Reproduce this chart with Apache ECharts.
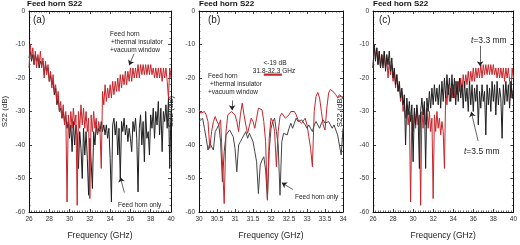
<!DOCTYPE html>
<html lang="en">
<head>
<meta charset="UTF-8">
<title>Feed horn S22</title>
<script src="https://cdn.jsdelivr.net/npm/echarts@6/dist/echarts.min.js"></script>
<style>
  html, body { margin: 0; padding: 0; background: #fff; }
  #chart { width: 520px; height: 245px; }
</style>
</head>
<body>
<div id="chart"></div>
<script>
// sampling grids (GHz)
var startWide = 26, stepWide = 0.125;   // panels (a) and (c)
var startZoom = 30, stepZoom = 0.05;    // panel (b)

// (a) feed horn + thermal insulator + vacuum window (red), one row per GHz
var hornWindowA = [
  -17, -10, -14, -11, -16, -12, -17, -13,
  -16, -12, -17, -14, -20, -15, -19, -16,
  -21, -18, -23, -19, -24, -22, -27, -24,
  -30, -27, -32, -28, -34, -30, -57, -31,
  -36, -30, -35, -29, -34, -31, -58, -30,
  -35, -28, -34, -29, -35, -30, -36, -32,
  -56, -31, -36, -30, -35, -32, -37, -33,
  -36, -47, -24, -28, -22, -27, -23, -26,
  -22, -26, -21, -25, -21, -24, -20, -24,
  -19, -23, -19, -22, -18, -22, -18, -21,
  -17, -21, -17, -20, -17, -20, -16, -20,
  -16, -19, -16, -19, -16, -19, -16, -19,
  -16, -19, -17, -20, -17, -20, -17, -20,
  -17, -21, -17, -20, -17, -21, -26, -17,
  -20
];
// (a) feed horn only (black)
var hornOnlyA = [
  -14, -12, -15, -13, -16, -13, -15, -14,
  -17, -15, -16, -15, -19, -16, -18, -17,
  -21, -19, -22, -21, -25, -23, -28, -26,
  -30, -29, -32, -30, -33, -31, -35, -33,
  -38, -34, -42, -33, -40, -34, -37, -47,
  -36, -41, -50, -35, -43, -36, -44, -55,
  -38, -45, -53, -36, -40, -34, -37, -35,
  -36, -33, -36, -34, -37, -34, -38, -35,
  -44, -57, -34, -32, -37, -33, -43, -35,
  -50, -33, -36, -32, -37, -34, -39, -35,
  -38, -42, -33, -36, -32, -38, -54, -35,
  -31, -40, -33, -45, -30, -38, -36, -43,
  -31, -35, -29, -38, -30, -34, -27, -37,
  -29, -42, -30, -33, -28, -35, -26, -47,
  -30
];

// (b) 30-34 GHz, one row per 0.5 GHz
var hornWindowB = [
  -29.5, -30.5, -31, -30, -31, -33, -41, -36, -33, -31.5,
  -33, -34, -32.5, -33, -57.5, -36, -31, -30.5, -30, -30.5,
  -31, -33, -36, -31, -27.5, -31, -34, -36.5, -36, -32,
  -33, -35, -32, -29, -28.5, -29.5, -33, -39, -56.5, -38,
  -32, -33, -36, -46.5, -36, -31.5, -30.5, -31, -32, -31.5,
  -31, -30, -29.5, -30, -31, -32.5, -33, -33.5, -33, -32,
  -34, -37.5, -41, -46.5, -30, -25.5, -24.3, -26, -30, -34,
  -35.5, -29, -24.5, -23.4, -23.6, -24.3, -25, -25.8, -25, -24.8,
  -25.8
];
var hornOnlyB = [
  -33, -32.5, -32, -35, -38, -41.5, -39.5, -40, -41.5, -36,
  -35, -34, -39, -51, -42, -37, -36.5, -35.5, -36, -37.5,
  -41, -48, -40, -39, -38, -37, -36, -38, -36.5, -36,
  -39, -42, -45, -54.5, -46, -44.5, -43.5, -47.5, -56, -42,
  -35, -33, -32, -36, -40, -55, -39, -36.5, -36, -37,
  -35, -33.5, -35, -33.5, -32, -33, -33.5, -32.5, -32, -34,
  -35, -34, -35, -36, -34, -33, -34, -35, -33.5, -32.5,
  -33.5, -34, -33, -34, -35, -34, -33.5, -37, -40, -43,
  -35
];
var bandB = [31.8, 32.3];   // band below -19 dB
var bandLevel = -19;

// (c) thickness comparison; t=3.3 mm is the red trace of (a)
var t33C = hornWindowA;
var t35C = [
  -17, -10, -15, -11, -16, -12, -17, -13,
  -17, -12, -18, -13, -16, -12, -18, -14,
  -20, -17, -22, -19, -24, -21, -26, -23,
  -28, -25, -40, -26, -31, -27, -33, -28,
  -45, -29, -34, -28, -32, -47, -30, -26,
  -31, -27, -47, -26, -30, -24, -29, -23,
  -28, -22, -27, -23, -28, -22, -29, -21,
  -27, -20, -26, -19, -25, -20, -27, -19,
  -26, -20, -28, -21, -27, -20, -26, -22,
  -29, -21, -27, -23, -30, -21, -28, -22,
  -30, -23, -27, -22, -34, -24, -29, -22,
  -27, -24, -37, -22, -28, -23, -30, -21,
  -27, -22, -31, -21, -28, -23, -26, -38,
  -22, -28, -21, -27, -22, -29, -21, -26,
  -23
];

var RED = '#c8242a';
var BLACK = '#1e1e1e';
var FONT = '"Liberation Sans", Arial, sans-serif';

function pairs(start, step, vals) {
  return vals.map(function (v, i) { return [+(start + i * step).toFixed(3), v]; });
}

var chart = echarts.init(document.getElementById('chart'));

function xAx(gi, min, max, interval, minor, top) {
  return {
    type: 'value', gridIndex: gi, min: min, max: max, interval: interval,
    position: top ? 'top' : 'bottom',
    name: top ? '' : 'Frequency (GHz)', nameLocation: 'middle', nameGap: 19,
    nameTextStyle: { fontSize: 8.5, color: '#222', fontFamily: FONT },
    axisLine: { onZero: false, lineStyle: { color: '#111', width: 1 } },
    axisTick: { inside: true, length: 3, lineStyle: { color: '#111', width: 0.8 } },
    minorTick: { show: true, splitNumber: minor, length: 1.5, lineStyle: { color: '#111', width: 0.6 } },
    axisLabel: { show: !top, fontSize: 6.5, color: '#333', margin: 4, fontFamily: FONT },
    splitLine: { show: false }
  };
}
function yAx(gi, gap, right) {
  return {
    type: 'value', gridIndex: gi, min: -60, max: 0, interval: 10,
    position: right ? 'right' : 'left',
    name: right ? '' : 'S22 (dB)', nameLocation: 'middle', nameGap: gap,
    nameTextStyle: { fontSize: 8, color: '#222', fontFamily: FONT },
    axisLine: { onZero: false, lineStyle: { color: '#111', width: 1 } },
    axisTick: { inside: true, length: 3, lineStyle: { color: '#111', width: 0.8 } },
    minorTick: { show: true, splitNumber: 5, length: 1.5, lineStyle: { color: '#111', width: 0.6 } },
    axisLabel: { show: !right, fontSize: 6.5, color: '#333', margin: 4, fontFamily: FONT },
    splitLine: { show: false }
  };
}
function trace(xi, data, color, width) {
  return {
    type: 'line', xAxisIndex: xi, yAxisIndex: xi, data: data,
    showSymbol: false, symbol: 'none', animation: false,
    lineStyle: { color: color, width: width }, itemStyle: { color: color }
  };
}
function arrows(list) {
  return {
    silent: true, symbol: ['none', 'arrow'], symbolSize: 5,
    label: { show: false },
    lineStyle: { color: '#222', width: 0.7, type: 'solid' },
    data: list.map(function (a) { return [{ coord: a[0] }, { coord: a[1] }]; })
  };
}
function txt(x, y, s, size, extra) {
  var st = { text: s, font: (size || 6.5) + 'px ' + FONT, fill: '#222', verticalAlign: 'middle', textVerticalAlign: 'middle' };
  if (extra) for (var k in extra) st[k] = extra[k];
  return { type: 'text', x: x, y: y, style: st, silent: true };
}

var sA_red = trace(0, pairs(startWide, stepWide, hornWindowA), RED, 1);
sA_red.markLine = arrows([[[36.35, -12.8], [35.88, -16.2]], [[35.4, -54.2], [35.0, -49.6]]]);
var sB_red = trace(2, pairs(startZoom, stepZoom, hornWindowB), RED, 1);
sB_red.markLine = arrows([[[30.92, -26.7], [30.92, -29.6]], [[32.61, -53.3], [32.3, -51.3]]]);
var sC_blk = trace(4, pairs(startWide, stepWide, t35C), BLACK, 1);
sC_blk.markLine = arrows([[[36.68, -10.4], [36.68, -16.5]], [[36.48, -38.8], [35.8, -30.1]]]);

var band = trace(2, bandB.map(function (f) { return [f, bandLevel]; }), RED, 2.2);

var option = {
  animation: false,
  textStyle: { fontFamily: FONT },
  title: [
    { text: 'Feed horn S22', left: 27, top: 0, padding: 0, textStyle: { fontSize: 8, fontWeight: 'bold', color: '#111' } },
    { text: 'Feed horn S22', left: 199, top: 0, padding: 0, textStyle: { fontSize: 8, fontWeight: 'bold', color: '#111' } },
    { text: 'Feed horn S22', left: 373, top: 0, padding: 0, textStyle: { fontSize: 8, fontWeight: 'bold', color: '#111' } }
  ],
  grid: [
    { left: 25, top: 11, width: 146, height: 207 },
    { left: 199, top: 11, width: 144, height: 207 },
    { left: 373, top: 11, width: 143, height: 207 }
  ],
  xAxis: [
    xAx(0, 26, 40, 2, 8, false), xAx(0, 26, 40, 2, 8, true),
    xAx(1, 30, 34, 0.5, 5, false), xAx(1, 30, 34, 0.5, 5, true),
    xAx(2, 26, 40, 2, 8, false), xAx(2, 26, 40, 2, 8, true)
  ],
  yAxis: [
    yAx(0, 20, false), yAx(0, 0, true),
    yAx(1, 24, false), yAx(1, 0, true),
    yAx(2, 29, false), yAx(2, 0, true)
  ],
  series: [
    trace(0, pairs(startWide, stepWide, hornOnlyA), BLACK, 1),
    sA_red,
    trace(2, pairs(startZoom, stepZoom, hornOnlyB), '#444', 1),
    sB_red,
    band,
    trace(4, pairs(startWide, stepWide, t33C), RED, 1),
    sC_blk
  ],
  graphic: [
    txt(33, 20, '(a)', 10),
    txt(110, 34, 'Feed horn'),
    txt(111, 42, '+thermal insulator'),
    txt(110, 50, '+vacuum window'),
    txt(118, 205, 'Feed horn only'),

    txt(208, 20, '(b)', 10),
    txt(275, 63, '<-19 dB', 6.5, { align: 'center', textAlign: 'center' }),
    txt(274, 71, '31.8-32.3 GHz', 6.5, { align: 'center', textAlign: 'center' }),
    txt(208, 76, 'Feed horn'),
    txt(210, 84, '+thermal insulator'),
    txt(208, 92, '+vacuum window'),
    txt(295, 197, 'Feed horn only'),

    txt(379, 20, '(c)', 10),
    {
      type: 'text', x: 471, y: 41, silent: true,
      style: { text: '{i|t}=3.3 mm', font: '8.5px ' + FONT, fill: '#222', verticalAlign: 'middle',
        rich: { i: { fontStyle: 'italic', fontSize: 8.5, fontFamily: FONT } } }
    },
    {
      type: 'text', x: 464, y: 152, silent: true,
      style: { text: '{i|t}=3.5 mm', font: '8.5px ' + FONT, fill: '#222', verticalAlign: 'middle',
        rich: { i: { fontStyle: 'italic', fontSize: 8.5, fontFamily: FONT } } }
    }
  ]
};

chart.setOption(option);
</script>
</body>
</html>
